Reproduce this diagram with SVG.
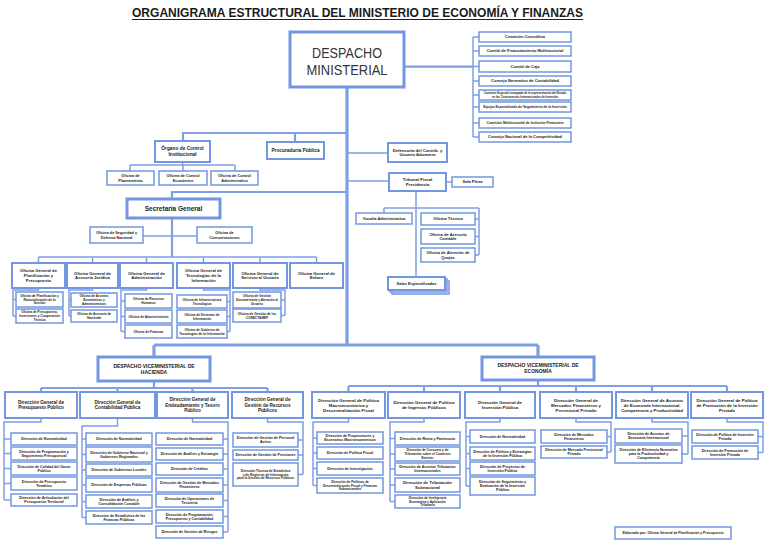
<svg xmlns="http://www.w3.org/2000/svg" width="768" height="543" viewBox="0 0 768 543">
<style>
.bg{fill:#fff}
.b{fill:#fff;stroke:#7396e0;stroke-width:1.5}
.bm{stroke-width:2}
.bb{stroke-width:3}
.c{fill:none;stroke:#7f9fe4;stroke-width:1.5}
.cm{stroke-width:2.2}
.ct{stroke-width:3.2}
.t{font-family:"Liberation Sans",Arial,sans-serif;font-weight:bold;fill:#1a1a1a;text-anchor:middle}
.d{font-family:"Liberation Sans",Arial,sans-serif;fill:#333;text-anchor:middle;font-size:14px}
.f28{font-size:2.8px}.f32{font-size:3.2px}.f33{font-size:3.3px}.f34{font-size:3.4px}.f36{font-size:3.6px}.f38{font-size:3.8px}.f4{font-size:4px}.f42{font-size:4.2px}.f44{font-size:4.4px}.f46{font-size:4.6px}.f48{font-size:4.8px}.f5{font-size:5px}.f65{font-size:6.5px}
</style>
<rect class="bg" x="0" y="0" width="768" height="543"/>
<g id="title">
<text class="t" x="357.5" y="17" style="font-size:13px" textLength="451" lengthAdjust="spacingAndGlyphs">ORGANIGRAMA ESTRUCTURAL DEL MINISTERIO DE ECONOMÍA Y FINANZAS</text>
<line x1="132" y1="19.5" x2="583" y2="19.5" stroke="#222" stroke-width="1"/>
</g>
<g id="connectors">
<path class="c ct" d="M347 87V345M154 345H538M154 345V357M538 345V357"/>
<path class="c cm" d="M347 133H183V141M295 133V142M347 192H172V199M172 218V257M404 66.7H473"/>
<path class="c" d="M473 37V137M473 37H479M473 51H479M473 66.5H479M473 81H479M473 95H479M473 107H479M473 123H479M473 137H479"/>
<path class="c" d="M182.5 162V165M130 165H235M130 165V171M183 165V171M235 165V171"/>
<path class="c" d="M347 153H388M347 181H389M446 182H452M416 191V277M384 208H479M384 208V213M479 208V255M475 219H479M475 236.5H479M475 255H479"/>
<path class="c" d="M143 236H197M38.5 257H316.5M38.5 257V263M92.5 257V263M146.5 257V263M203.5 257V263M260 257V263M316.5 257V263"/>
<path class="c" d="M38.5 288V290H13V316M13 299.5H16M13 316H16"/>
<path class="c" d="M92.5 288V290H69V316M69 300H71M69 316H71"/>
<path class="c" d="M146.5 288V290H121V331.5M121 301H125M121 316.5H125M121 331.5H125"/>
<path class="c" d="M203.5 288V290H230V331.5M227 301.5H230M227 316.5H230M227 331.5H230"/>
<path class="c" d="M260 288V290H285V315.5M281 300H285M281 315.5H285"/>
<path class="c cm" d="M154 381V388M41 388H267.5M41 388V392M117.5 388V392M192.5 388V392M267.5 388V392"/>
<path class="c cm" d="M538 380V386M348.5 386H727M348.5 386V392M424 386V392M500 386V392M576 386V392M652 386V392M727 386V392"/>
<path class="c" d="M41 418V422H4V500M4 439H11M4 453.5H11M4 468.5H11M4 483.5H11M4 500H11"/>
<path class="c" d="M117.5 418V426H82V517.5M82 439H86M82 454.5H86M82 470H86M82 485H86M82 501.5H86M82 517.5H86"/>
<path class="c" d="M192.5 418V422H228V532M223 439H228M223 454H228M223 469H228M223 485H228M223 500.5H228M223 516.5H228M223 532H228"/>
<path class="c" d="M267.5 418V422H303V474.5M298 440H303M298 455H303M298 474.5H303"/>
<path class="c" d="M348.5 418V422H313V485.5M313 438H317M313 453H317M313 468.5H317M313 485.5H317"/>
<path class="c" d="M424 418V422H390V501.5M390 438.5H395M390 454H395M390 469H395M390 485H395M390 501.5H395"/>
<path class="c" d="M500 418V422H466V486M466 436.5H470M466 453.5H470M466 468.5H470M466 486H470"/>
<path class="c" d="M576 418V422H611V452M607 436.5H611M607 452H611"/>
<path class="c" d="M652 418V422H688V454M682 436H688M682 454H688"/>
<path class="c" d="M727 418V422H763V452.5M758 436.5H763M758 452.5H763"/>
</g>
<g id="despacho-ministerial">
<rect class="b bb" x="290" y="32" width="114" height="55"/>
<text class="d" x="347" y="58.3" textLength="70" lengthAdjust="spacingAndGlyphs">DESPACHO</text>
<text class="d" x="347" y="75" textLength="81" lengthAdjust="spacingAndGlyphs">MINISTERIAL</text>
</g>
<g id="comision-consultiva"><rect class="b" x="479" y="32" width="92" height="10"/><text class="t f4" x="525" y="38.4">Comisión Consultiva</text></g>
<g id="comite-financiamiento"><rect class="b" x="479" y="46" width="92" height="10"/><text class="t f4" x="525" y="52.4">Comité de Financiamiento Multisectorial</text></g>
<g id="comite-caja"><rect class="b" x="479" y="61" width="92" height="11"/><text class="t f4" x="525" y="67.9">Comité de Caja</text></g>
<g id="consejo-normativo"><rect class="b" x="479" y="76" width="92" height="10"/><text class="t f4" x="525" y="82.4">Consejo Normativo de Contabilidad</text></g>
<g id="comision-especial"><rect class="b" x="479" y="90" width="92" height="10"/><text class="t f28" x="525" y="94.3"><tspan x="525">Comisión Especial encargada de la representación del Estado</tspan><tspan x="525" dy="3.3">en las Controversias Internacionales de Inversión</tspan></text></g>
<g id="equipo-especializado"><rect class="b" x="479" y="102" width="92" height="10"/><text class="t f33" x="525" y="108.2">Equipo Especializado de Seguimiento de la Inversión</text></g>
<g id="comision-inclusion"><rect class="b" x="479" y="118" width="92" height="10"/><text class="t f34" x="525" y="124.2">Comisión Multisectorial de Inclusión Financiera</text></g>
<g id="consejo-competitividad"><rect class="b" x="479" y="132" width="92" height="10"/><text class="t f4" x="525" y="138.4">Consejo Nacional de la Competitividad</text></g>
<g id="organo-control"><rect class="b bm" x="155" y="141" width="55" height="21"/><text class="t f48" x="182.5" y="150.4"><tspan x="182.5">Órgano de Control</tspan><tspan x="182.5" dy="5.5">Institucional</tspan></text></g>
<g id="procuraduria"><rect class="b bm" x="267" y="142" width="57" height="17"/><text class="t f48" x="295.5" y="152.2">Procuraduría Pública</text></g>
<g id="of-planeamiento"><rect class="b" x="107" y="171" width="47" height="14"/><text class="t f38" x="130.5" y="177.2"><tspan x="130.5">Oficina de</tspan><tspan x="130.5" dy="4.3">Planeamiento</tspan></text></g>
<g id="of-control-economico"><rect class="b" x="159" y="171" width="48" height="14"/><text class="t f38" x="183" y="177.2"><tspan x="183">Oficina de Control</tspan><tspan x="183" dy="4.3">Económico</tspan></text></g>
<g id="of-control-administrativo"><rect class="b" x="211" y="171" width="47" height="14"/><text class="t f38" x="234.5" y="177.2"><tspan x="234.5">Oficina de Control</tspan><tspan x="234.5" dy="4.3">Administrativo</tspan></text></g>
<g id="defensoria"><rect class="b bm" x="388" y="143" width="59" height="19"/><text class="t f42" x="417.5" y="151.6"><tspan x="417.5">Defensoría del Contrib. y</tspan><tspan x="417.5" dy="4.8">Usuario Aduanero</tspan></text></g>
<g id="tribunal-fiscal"><rect class="b bm" x="389" y="173" width="57" height="18"/><text class="t f42" x="417.5" y="181.1"><tspan x="417.5">Tribunal Fiscal</tspan><tspan x="417.5" dy="4.8">Presidencia</tspan></text></g>
<g id="sala-plena"><rect class="b" x="452" y="177" width="41" height="10"/><text class="t f4" x="472.5" y="183.4">Sala Plena</text></g>
<g id="vocalia"><rect class="b" x="356" y="213" width="56" height="11"/><text class="t f4" x="384" y="219.9">Vocalía Administrativa</text></g>
<g id="oficina-tecnica"><rect class="b" x="421" y="213" width="54" height="12"/><text class="t f4" x="448" y="220.4">Oficina Técnica</text></g>
<g id="asesoria-contable"><rect class="b" x="421" y="229" width="54" height="15"/><text class="t f4" x="448" y="235.6"><tspan x="448">Oficina de Asesoría</tspan><tspan x="448" dy="4.6">Contable</tspan></text></g>
<g id="atencion-quejas"><rect class="b" x="421" y="248" width="54" height="14"/><text class="t f4" x="448" y="254.1"><tspan x="448">Oficina de Atención de</tspan><tspan x="448" dy="4.6">Quejas</tspan></text></g>
<g id="salas-especializadas"><rect class="b" x="392" y="281" width="57" height="13"/><rect class="b" x="390" y="279" width="57" height="13"/><rect class="b bm" x="388" y="277" width="57" height="13"/><text class="t f4" x="416.5" y="284.9">Salas Especializadas</text></g>
<g id="secretaria-general"><rect class="b bb" x="127" y="199" width="93" height="19"/><text class="t f65" x="173.5" y="210.8">Secretaría General</text></g>
<g id="of-seguridad"><rect class="b" x="90" y="227" width="53" height="16"/><text class="t f38" x="116.5" y="234.2"><tspan x="116.5">Oficina de Seguridad y</tspan><tspan x="116.5" dy="4.3">Defensa Nacional</tspan></text></g>
<g id="of-comunicaciones"><rect class="b" x="197" y="227" width="55" height="16"/><text class="t f38" x="224.5" y="234.2"><tspan x="224.5">Oficina de</tspan><tspan x="224.5" dy="4.3">Comunicaciones</tspan></text></g>
<g id="og-planificacion"><rect class="b bm" x="12" y="263" width="53" height="25"/><text class="t f42" x="38.5" y="272.2"><tspan x="38.5">Oficina General de</tspan><tspan x="38.5" dy="4.8">Planificación y</tspan><tspan x="38.5" dy="4.8">Presupuesto</tspan></text></g>
<g id="og-asesoria"><rect class="b bm" x="67" y="263" width="51" height="25"/><text class="t f42" x="92.5" y="274.6"><tspan x="92.5">Oficina General de</tspan><tspan x="92.5" dy="4.8">Asesoría Jurídica</tspan></text></g>
<g id="og-administracion"><rect class="b bm" x="120" y="263" width="53" height="25"/><text class="t f42" x="146.5" y="274.6"><tspan x="146.5">Oficina General de</tspan><tspan x="146.5" dy="4.8">Administración</tspan></text></g>
<g id="og-tecnologias"><rect class="b bm" x="177" y="263" width="53" height="25"/><text class="t f42" x="203.5" y="272.2"><tspan x="203.5">Oficina General de</tspan><tspan x="203.5" dy="4.8">Tecnologías de la</tspan><tspan x="203.5" dy="4.8">Información</tspan></text></g>
<g id="og-servicio"><rect class="b bm" x="233" y="263" width="54" height="25"/><text class="t f42" x="260" y="274.6"><tspan x="260">Oficina General de</tspan><tspan x="260" dy="4.8">Servicio al Usuario</tspan></text></g>
<g id="og-enlace"><rect class="b bm" x="290" y="263" width="53" height="25"/><text class="t f42" x="316.5" y="274.6"><tspan x="316.5">Oficina General de</tspan><tspan x="316.5" dy="4.8">Enlace</tspan></text></g>
<g id="o-planif-racion"><rect class="b" x="16" y="292" width="47" height="15"/><text class="t f32" x="39.5" y="296.9"><tspan x="39.5">Oficina de Planificación y</tspan><tspan x="39.5" dy="3.7">Racionalización de la</tspan><tspan x="39.5" dy="3.7">Gestión</tspan></text></g>
<g id="o-presupuesto"><rect class="b" x="16" y="309" width="47" height="14"/><text class="t f32" x="39.5" y="313.4"><tspan x="39.5">Oficina de Presupuesto,</tspan><tspan x="39.5" dy="3.7">Inversiones y Cooperación</tspan><tspan x="39.5" dy="3.7">Técnica</tspan></text></g>
<g id="o-asuntos"><rect class="b" x="71" y="293" width="46" height="14"/><text class="t f32" x="94" y="297.4"><tspan x="94">Oficina de Asuntos</tspan><tspan x="94" dy="3.7">Económicos y</tspan><tspan x="94" dy="3.7">Administrativos</tspan></text></g>
<g id="o-asesoria-hacienda"><rect class="b" x="71" y="310" width="46" height="12"/><text class="t f32" x="94" y="315.3"><tspan x="94">Oficina de Asesoría de</tspan><tspan x="94" dy="3.7">Hacienda</tspan></text></g>
<g id="o-rrhh"><rect class="b" x="125" y="294" width="47" height="14"/><text class="t f32" x="148.5" y="300.3"><tspan x="148.5">Oficina de Recursos</tspan><tspan x="148.5" dy="3.7">Humanos</tspan></text></g>
<g id="o-abastecimiento"><rect class="b" x="125" y="310" width="47" height="13"/><text class="t f32" x="148.5" y="317.6">Oficina de Abastecimiento</text></g>
<g id="o-finanzas"><rect class="b" x="125" y="325" width="47" height="13"/><text class="t f32" x="148.5" y="332.6">Oficina de Finanzas</text></g>
<g id="o-infraestructura"><rect class="b" x="177" y="295" width="50" height="13"/><text class="t f32" x="202" y="300.8"><tspan x="202">Oficina de Infraestructura</tspan><tspan x="202" dy="3.7">Tecnológica</tspan></text></g>
<g id="o-sistemas"><rect class="b" x="177" y="310" width="50" height="13"/><text class="t f32" x="202" y="315.8"><tspan x="202">Oficina de Sistemas de</tspan><tspan x="202" dy="3.7">Información</tspan></text></g>
<g id="o-gobierno-ti"><rect class="b" x="177" y="325" width="50" height="13"/><text class="t f32" x="202" y="330.8"><tspan x="202">Oficina de Gobierno de</tspan><tspan x="202" dy="3.7">Tecnologías de la Información</tspan></text></g>
<g id="o-documentaria"><rect class="b" x="233" y="292" width="48" height="16"/><text class="t f32" x="257" y="297.4"><tspan x="257">Oficina de Gestión</tspan><tspan x="257" dy="3.7">Documentaria y Atención al</tspan><tspan x="257" dy="3.7">Usuario</tspan></text></g>
<g id="o-conectamef"><rect class="b" x="233" y="309" width="48" height="13"/><text class="t f32" x="257" y="314.8"><tspan x="257">Oficina de Gestión de los</tspan><tspan x="257" dy="3.7">CONECTAMEF</tspan></text></g>
<g id="vm-hacienda"><rect class="b bb" x="98" y="357" width="112" height="24"/><text class="t f5" x="154" y="367.9"><tspan x="154">DESPACHO VICEMINISTERIAL DE</tspan><tspan x="154" dy="5.8">HACIENDA</tspan></text></g>
<g id="vm-economia"><rect class="b bb" x="482" y="357" width="112" height="23"/><text class="t f5" x="538" y="367.4"><tspan x="538">DESPACHO VICEMINISTERIAL DE</tspan><tspan x="538" dy="5.8">ECONOMÍA</tspan></text></g>
<g id="dg-presupuesto"><rect class="b bm" x="5" y="392" width="72" height="26"/><text class="t f46" x="41" y="404"><tspan x="41">Dirección General de</tspan><tspan x="41" dy="5.2">Presupuesto Público</tspan></text></g>
<g id="dg-contabilidad"><rect class="b bm" x="80" y="392" width="75" height="26"/><text class="t f46" x="117.5" y="404"><tspan x="117.5">Dirección General de</tspan><tspan x="117.5" dy="5.2">Contabilidad Pública</tspan></text></g>
<g id="dg-endeudamiento"><rect class="b bm" x="157" y="392" width="71" height="26"/><text class="t f46" x="192.5" y="401.4"><tspan x="192.5">Dirección General de</tspan><tspan x="192.5" dy="5.2">Endeudamiento y Tesoro</tspan><tspan x="192.5" dy="5.2">Público</tspan></text></g>
<g id="dg-recursos"><rect class="b bm" x="232" y="392" width="71" height="26"/><text class="t f46" x="267.5" y="401.4"><tspan x="267.5">Dirección General de</tspan><tspan x="267.5" dy="5.2">Gestión de Recursos</tspan><tspan x="267.5" dy="5.2">Públicos</tspan></text></g>
<g id="dg-macro"><rect class="b bm" x="312" y="392" width="73" height="26"/><text class="t f44" x="348.5" y="401.5"><tspan x="348.5">Dirección General de Política</tspan><tspan x="348.5" dy="5">Macroeconómica y</tspan><tspan x="348.5" dy="5">Descentralización Fiscal</tspan></text></g>
<g id="dg-ingresos"><rect class="b bm" x="388" y="392" width="72" height="26"/><text class="t f44" x="424" y="404"><tspan x="424">Dirección General de Política</tspan><tspan x="424" dy="5">de Ingresos Públicos</tspan></text></g>
<g id="dg-inversion"><rect class="b bm" x="465" y="392" width="70" height="26"/><text class="t f44" x="500" y="404"><tspan x="500">Dirección General de</tspan><tspan x="500" dy="5">Inversión Pública</tspan></text></g>
<g id="dg-mercados"><rect class="b bm" x="540" y="392" width="72" height="26"/><text class="t f44" x="576" y="401.5"><tspan x="576">Dirección General de</tspan><tspan x="576" dy="5">Mercados Financieros y</tspan><tspan x="576" dy="5">Previsional Privado</tspan></text></g>
<g id="dg-asuntos"><rect class="b bm" x="616" y="392" width="72" height="26"/><text class="t f44" x="652" y="401.5"><tspan x="652">Dirección General de Asuntos</tspan><tspan x="652" dy="5">de Economía Internacional,</tspan><tspan x="652" dy="5">Competencia y Productividad</tspan></text></g>
<g id="dg-promocion"><rect class="b bm" x="691" y="392" width="72" height="26"/><text class="t f44" x="727" y="401.5"><tspan x="727">Dirección General de Política</tspan><tspan x="727" dy="5">de Promoción de la Inversión</tspan><tspan x="727" dy="5">Privada</tspan></text></g>
<g id="pp-1"><rect class="b" x="11" y="433" width="66" height="12"/><text class="t f36" x="44" y="440.3">Dirección de Normatividad</text></g>
<g id="pp-2"><rect class="b" x="11" y="447" width="66" height="13"/><text class="t f36" x="44" y="452.7"><tspan x="44">Dirección de Programación y</tspan><tspan x="44" dy="4.1">Seguimiento Presupuestal</tspan></text></g>
<g id="pp-3"><rect class="b" x="11" y="462" width="66" height="13"/><text class="t f36" x="44" y="467.7"><tspan x="44">Dirección de Calidad del Gasto</tspan><tspan x="44" dy="4.1">Público</tspan></text></g>
<g id="pp-4"><rect class="b" x="11" y="477" width="66" height="13"/><text class="t f36" x="44" y="482.7"><tspan x="44">Dirección de Presupuesto</tspan><tspan x="44" dy="4.1">Temático</tspan></text></g>
<g id="pp-5"><rect class="b" x="11" y="494" width="66" height="12"/><text class="t f36" x="44" y="499.2"><tspan x="44">Dirección de Articulación del</tspan><tspan x="44" dy="4.1">Presupuesto Territorial</tspan></text></g>
<g id="cp-1"><rect class="b" x="86" y="433" width="66" height="12"/><text class="t f36" x="119" y="440.3">Dirección de Normatividad</text></g>
<g id="cp-2"><rect class="b" x="86" y="447" width="66" height="15"/><text class="t f36" x="119" y="453.7"><tspan x="119">Dirección de Gobierno Nacional y</tspan><tspan x="119" dy="4.1">Gobiernos Regionales</tspan></text></g>
<g id="cp-3"><rect class="b" x="86" y="464" width="66" height="12"/><text class="t f36" x="119" y="471.3">Dirección de Gobiernos Locales</text></g>
<g id="cp-4"><rect class="b" x="86" y="478" width="66" height="14"/><text class="t f36" x="119" y="486.3">Dirección de Empresas Públicas</text></g>
<g id="cp-5"><rect class="b" x="86" y="495" width="66" height="13"/><text class="t f36" x="119" y="500.7"><tspan x="119">Dirección de Análisis y</tspan><tspan x="119" dy="4.1">Consolidación Contable</tspan></text></g>
<g id="cp-6"><rect class="b" x="86" y="511" width="66" height="13"/><text class="t f36" x="119" y="516.7"><tspan x="119">Dirección de Estadística de las</tspan><tspan x="119" dy="4.1">Finanzas Públicas</tspan></text></g>
<g id="et-1"><rect class="b" x="156" y="433" width="67" height="12"/><text class="t f36" x="189.5" y="440.3">Dirección de Normatividad</text></g>
<g id="et-2"><rect class="b" x="156" y="448" width="67" height="12"/><text class="t f36" x="189.5" y="455.3">Dirección de Análisis y Estrategia</text></g>
<g id="et-3"><rect class="b" x="156" y="463" width="67" height="12"/><text class="t f36" x="189.5" y="470.3">Dirección de Créditos</text></g>
<g id="et-4"><rect class="b" x="156" y="478" width="67" height="14"/><text class="t f36" x="189.5" y="484.2"><tspan x="189.5">Dirección de Gestión de Mercados</tspan><tspan x="189.5" dy="4.1">Financieros</tspan></text></g>
<g id="et-5"><rect class="b" x="156" y="494" width="67" height="13"/><text class="t f36" x="189.5" y="499.7"><tspan x="189.5">Dirección de Operaciones de</tspan><tspan x="189.5" dy="4.1">Tesorería</tspan></text></g>
<g id="et-6"><rect class="b" x="156" y="510" width="67" height="13"/><text class="t f36" x="189.5" y="515.7"><tspan x="189.5">Dirección de Programación,</tspan><tspan x="189.5" dy="4.1">Presupuesto y Contabilidad</tspan></text></g>
<g id="et-7"><rect class="b" x="156" y="526" width="67" height="12"/><text class="t f36" x="189.5" y="533.3">Dirección de Gestión de Riesgos</text></g>
<g id="rp-1"><rect class="b" x="233" y="433" width="65" height="14"/><text class="t f36" x="265.5" y="439.2"><tspan x="265.5">Dirección de Gestión de Personal</tspan><tspan x="265.5" dy="4.1">Activo</tspan></text></g>
<g id="rp-2"><rect class="b" x="233" y="450" width="65" height="10"/><text class="t f36" x="265.5" y="456.3">Dirección de Gestión de Pensiones</text></g>
<g id="rp-3"><rect class="b" x="233" y="463" width="65" height="23"/><text class="t f32" x="265.5" y="471.9"><tspan x="265.5">Dirección Técnica de Estadística</tspan><tspan x="265.5" dy="3.7">y de Registros de Información</tspan><tspan x="265.5" dy="3.7">para la Gestión de Recursos Públicos</tspan></text></g>
<g id="mf-1"><rect class="b" x="317" y="432" width="66" height="12"/><text class="t f36" x="350" y="437.2"><tspan x="350">Dirección de Proyecciones y</tspan><tspan x="350" dy="4.1">Escenarios Macroeconómicos</tspan></text></g>
<g id="mf-2"><rect class="b" x="317" y="447" width="66" height="12"/><text class="t f36" x="350" y="454.3">Dirección de Política Fiscal</text></g>
<g id="mf-3"><rect class="b" x="317" y="462" width="66" height="13"/><text class="t f36" x="350" y="469.8">Dirección de Investigación</text></g>
<g id="mf-4"><rect class="b" x="317" y="478" width="66" height="15"/><text class="t f32" x="350" y="482.9"><tspan x="350">Dirección de Políticas de</tspan><tspan x="350" dy="3.7">Descentralización Fiscal y Finanzas</tspan><tspan x="350" dy="3.7">Subnacionales</tspan></text></g>
<g id="ip-1"><rect class="b" x="395" y="432" width="65" height="13"/><text class="t f36" x="427.5" y="439.8">Dirección de Renta y Patrimonio</text></g>
<g id="ip-2"><rect class="b" x="395" y="447" width="65" height="14"/><text class="t f32" x="427.5" y="451.4"><tspan x="427.5">Dirección de Consumo y de</tspan><tspan x="427.5" dy="3.7">Tributación sobre el Comercio</tspan><tspan x="427.5" dy="3.7">Exterior</tspan></text></g>
<g id="ip-3"><rect class="b" x="395" y="463" width="65" height="12"/><text class="t f36" x="427.5" y="468.2"><tspan x="427.5">Dirección de Asuntos Tributarios</tspan><tspan x="427.5" dy="4.1">Internacionales</tspan></text></g>
<g id="ip-4"><rect class="b" x="395" y="478" width="65" height="14"/><text class="t f42" x="427.5" y="484.1"><tspan x="427.5">Dirección de Tributación</tspan><tspan x="427.5" dy="4.8">Subnacional</tspan></text></g>
<g id="ip-5"><rect class="b" x="395" y="495" width="65" height="13"/><text class="t f32" x="427.5" y="498.9"><tspan x="427.5">Dirección de Inteligencia</tspan><tspan x="427.5" dy="3.7">Económica y Aplicación</tspan><tspan x="427.5" dy="3.7">Tributaria</tspan></text></g>
<g id="in-1"><rect class="b" x="470" y="430" width="65" height="13"/><text class="t f36" x="502.5" y="437.8">Dirección de Normatividad</text></g>
<g id="in-2"><rect class="b" x="470" y="447" width="65" height="13"/><text class="t f36" x="502.5" y="452.7"><tspan x="502.5">Dirección de Política y Estrategias</tspan><tspan x="502.5" dy="4.1">de la Inversión Pública</tspan></text></g>
<g id="in-3"><rect class="b" x="470" y="462" width="65" height="13"/><text class="t f36" x="502.5" y="467.7"><tspan x="502.5">Dirección de Proyectos de</tspan><tspan x="502.5" dy="4.1">Inversión Pública</tspan></text></g>
<g id="in-4"><rect class="b" x="470" y="477" width="65" height="18"/><text class="t f36" x="502.5" y="483.2"><tspan x="502.5">Dirección de Seguimiento y</tspan><tspan x="502.5" dy="4.1">Evaluación de la Inversión</tspan><tspan x="502.5" dy="4.1">Pública</tspan></text></g>
<g id="mk-1"><rect class="b" x="541" y="430" width="66" height="13"/><text class="t f36" x="574" y="435.7"><tspan x="574">Dirección de Mercados</tspan><tspan x="574" dy="4.1">Financieros</tspan></text></g>
<g id="mk-2"><rect class="b" x="541" y="446" width="66" height="12"/><text class="t f36" x="574" y="451.2"><tspan x="574">Dirección de Mercado Previsional</tspan><tspan x="574" dy="4.1">Privado</tspan></text></g>
<g id="ei-1"><rect class="b" x="615" y="429" width="67" height="14"/><text class="t f36" x="648.5" y="435.2"><tspan x="648.5">Dirección de Asuntos de</tspan><tspan x="648.5" dy="4.1">Economía Internacional</tspan></text></g>
<g id="ei-2"><rect class="b" x="615" y="445" width="67" height="18"/><text class="t f36" x="648.5" y="451.2"><tspan x="648.5">Dirección de Eficiencia Normativa</tspan><tspan x="648.5" dy="4.1">para la Productividad y</tspan><tspan x="648.5" dy="4.1">Competencia</tspan></text></g>
<g id="pi-1"><rect class="b" x="692" y="430" width="66" height="13"/><text class="t f36" x="725" y="435.7"><tspan x="725">Dirección de Política de Inversión</tspan><tspan x="725" dy="4.1">Privada</tspan></text></g>
<g id="pi-2"><rect class="b" x="692" y="446" width="66" height="13"/><text class="t f36" x="725" y="451.7"><tspan x="725">Dirección de Promoción de</tspan><tspan x="725" dy="4.1">Inversión Privada</tspan></text></g>
<g id="footer"><rect class="b" x="615" y="527" width="116" height="12"/><text class="t f34" x="673" y="534.2">Elaborado por: Oficina General de Planificación y Presupuesto</text></g>
</svg>
